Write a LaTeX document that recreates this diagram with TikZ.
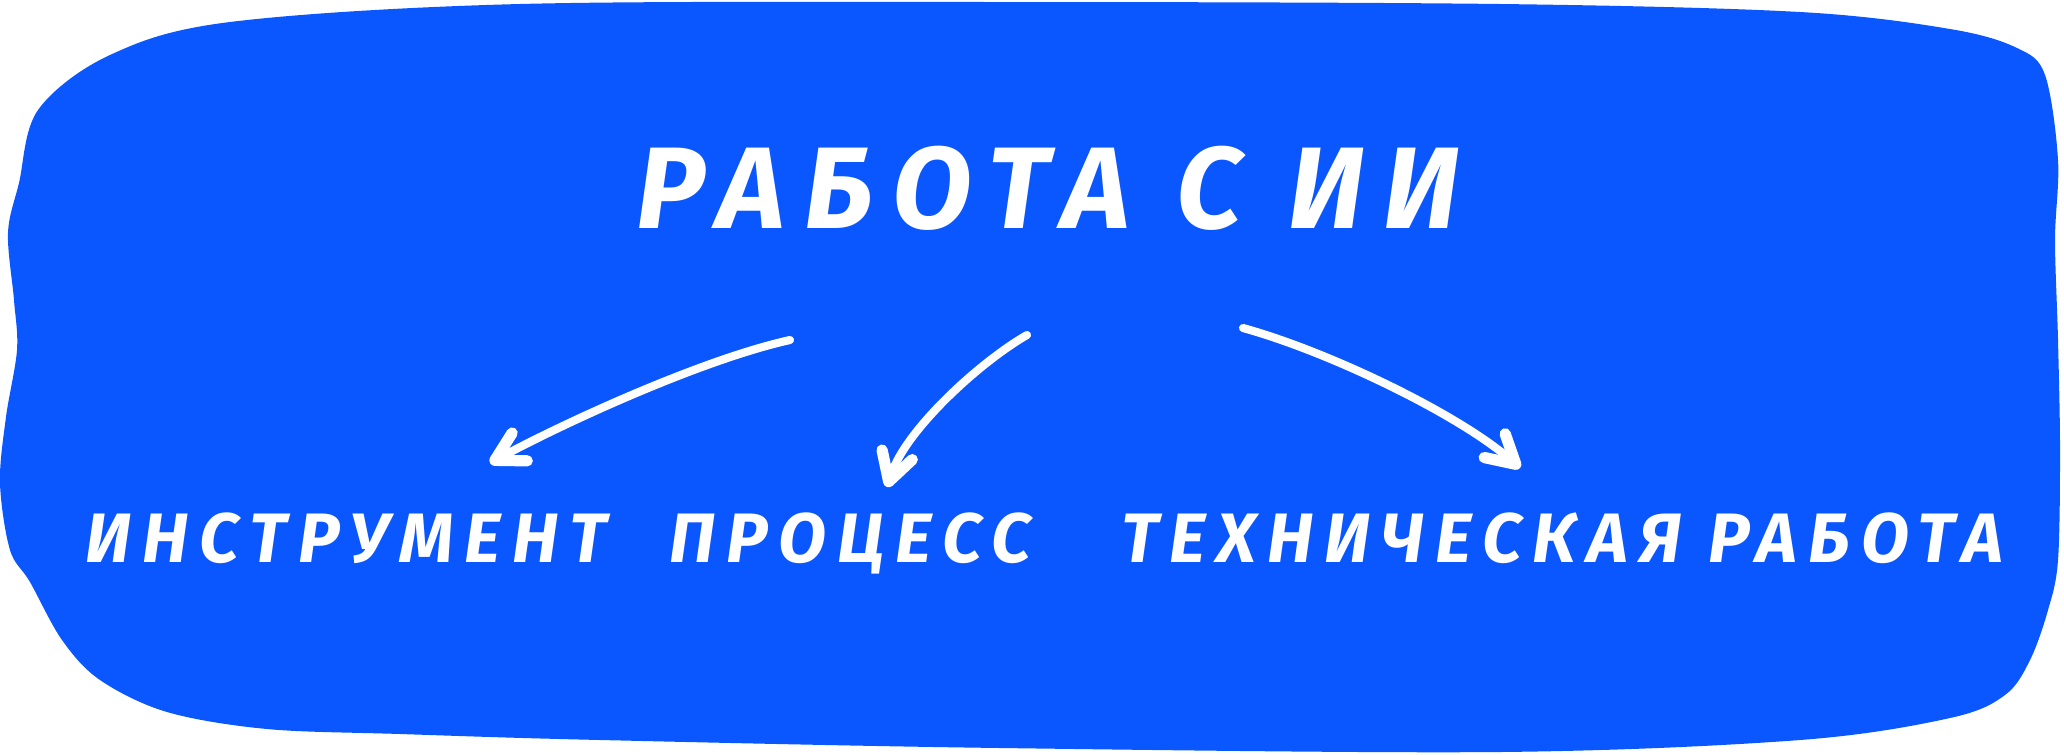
\documentclass[tikz,border=0pt]{standalone}
\usepackage{fontspec}
\newfontfamily\handfont[LetterSpace=16]{Fira Sans}
\newfontfamily\titlefont[LetterSpace=17]{Fira Sans}
\usetikzlibrary{arrows.meta, positioning}
\definecolor{blobblue}{HTML}{0A57FF}
\tikzset{x=0.01cm, y=-0.01cm,
	heading/.style={text=white, inner sep=0pt, anchor=base,
		font=\titlefont\bfseries\itshape\fontsize{33pt}{38pt}\selectfont},
	topic/.style={text=white, inner sep=0pt, anchor=base,
		font=\handfont\bfseries\itshape\fontsize{19.9pt}{24pt}\selectfont},
	link/.style={draw=white, line width=2.3pt, line cap=round,
		-{Straight Barb[length=8pt, width=9pt, line width=3.2pt, round]}}}

\begin{document}
\begin{tikzpicture}
    \useasboundingbox (0,0) rectangle (2064,754);
    % blob
    \fill[blobblue] plot[smooth cycle, tension=0.55] coordinates {
        (38,110) (110,55) (230,22) (520,4) (1000,2) (1500,4) (1800,12)
        (1950,29) (2017,48) (2045,75) (2058,160) (2055,240) (2058,340)
        (2060,450) (2058,560) (2048,610) (2030,660) (2005,695) (1950,718)
        (1800,740) (1500,752) (1000,748) (600,740) (400,734) (267,729)
        (167,712) (100,680) (62,640) (30,582) (10,550) (0,483) (6,417)
        (17,350) (14,300) (8,233) (19,183)};

    \node[heading] (title) at (1048,228) {РАБОТА С ИИ};
    \node[topic] (tool) at (346,562) {ИНСТРУМЕНТ};
    \node[topic] (proc) at (850,562) {ПРОЦЕСС};
    \node[topic] (tech) at (1562,562) {ТЕХНИЧЕСКАЯ РАБОТА};

    \coordinate (toolfrom) at (790,340);
    \coordinate (toolto) at (490,463);
    \coordinate (procfrom) at (1027,335);
    \coordinate (procto) at (887,487);
    \coordinate (techfrom) at (1243,328);
    \coordinate (techto) at (1520,468);

    \draw[link] (toolfrom) .. controls (700,360) and (560,425) .. (toolto);
    \draw[link] (procfrom) .. controls (980,362) and (905,430) .. (procto);
    \draw[link] (techfrom) .. controls (1330,352) and (1460,415) .. (techto);
\end{tikzpicture}
\end{document}
